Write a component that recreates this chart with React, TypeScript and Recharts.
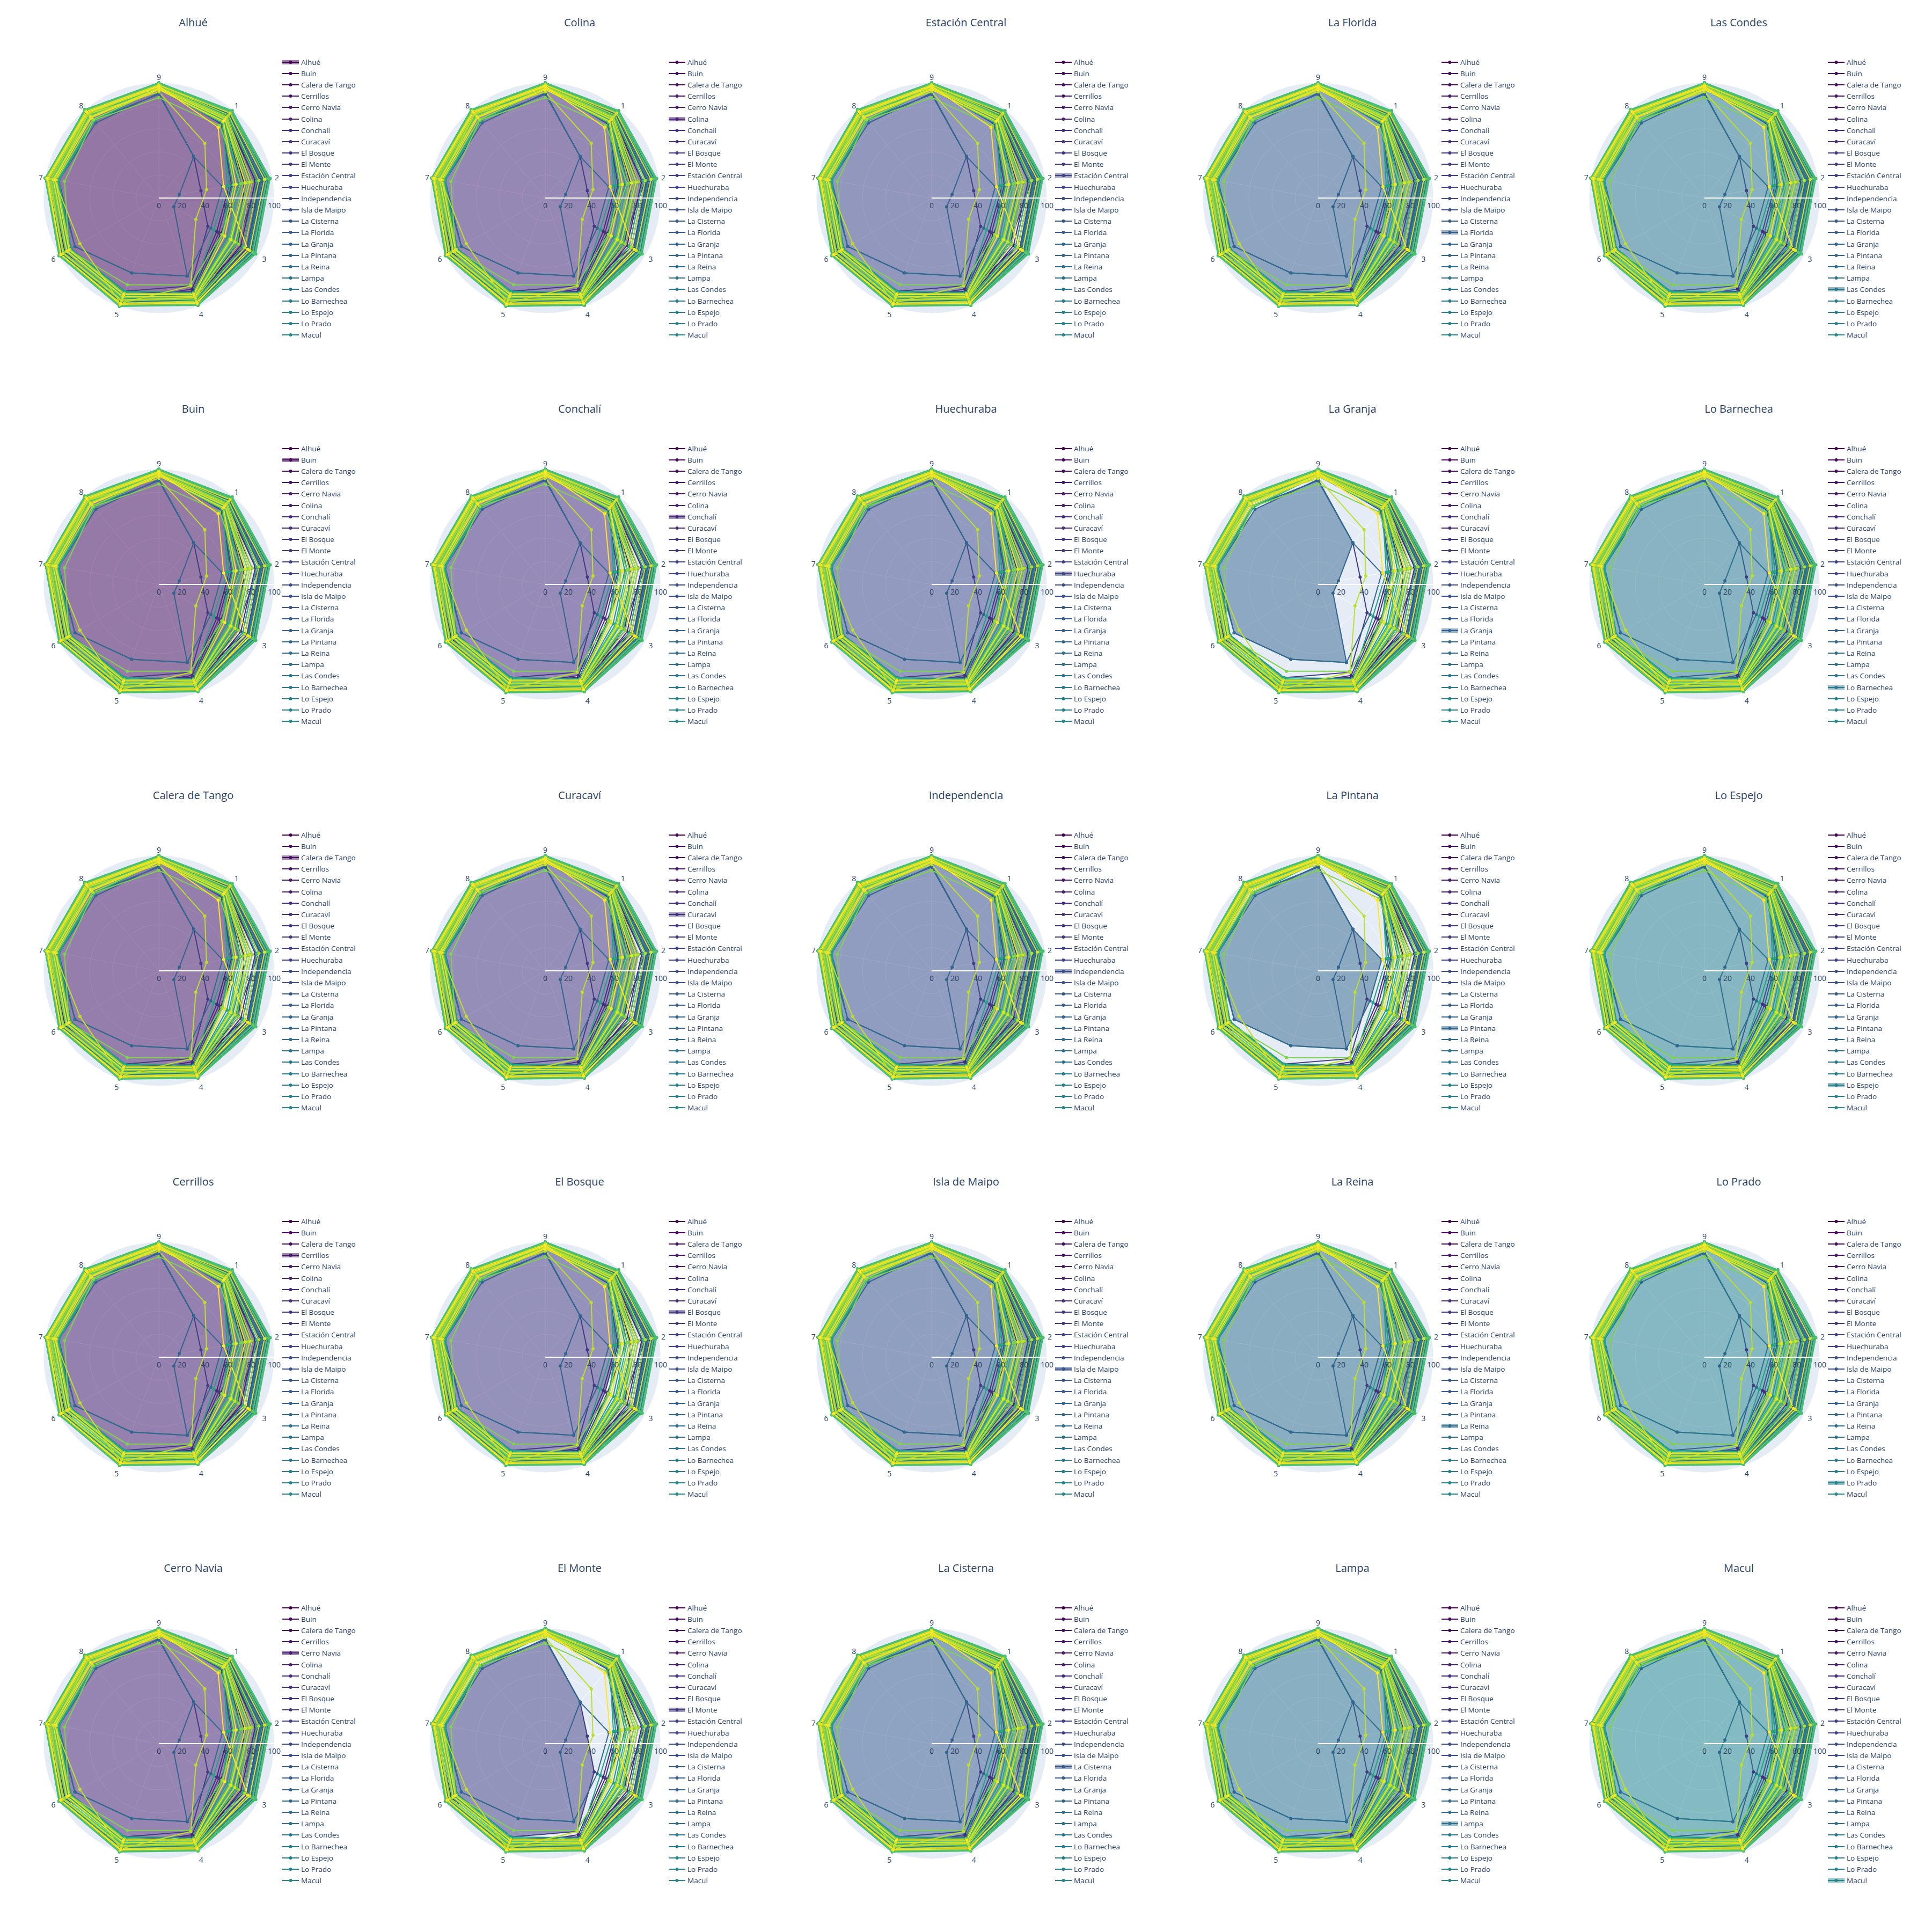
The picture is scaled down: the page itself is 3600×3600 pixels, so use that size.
import React from 'react';
import { RadarChart, Radar, PolarGrid, PolarAngleAxis, PolarRadiusAxis } from 'recharts';

// angular categories, clockwise from the top
const AXES = ['9', '1', '2', '3', '4', '5', '6', '7', '8'];

const COMMUNES = [
  'Alhué', 'Buin', 'Calera de Tango', 'Cerrillos', 'Cerro Navia', 'Colina', 'Conchalí',
  'Curacaví', 'El Bosque', 'El Monte', 'Estación Central', 'Huechuraba', 'Independencia',
  'Isla de Maipo', 'La Cisterna', 'La Florida', 'La Granja', 'La Pintana', 'La Reina',
  'Lampa', 'Las Condes', 'Lo Barnechea', 'Lo Espejo', 'Lo Prado', 'Macul', 'Maipú',
  'María Pinto', 'Melipilla', 'Ñuñoa', 'Padre Hurtado', 'Paine', 'Pedro Aguirre Cerda',
  'Peñaflor', 'Peñalolén', 'Pirque', 'Providencia', 'Pudahuel', 'Puente Alto', 'Quilicura',
  'Quinta Normal', 'Recoleta', 'Renca', 'San Bernardo', 'San Joaquín', 'San José de Maipo',
  'San Miguel', 'San Pedro', 'San Ramón', 'Santiago', 'Talagante', 'Tiltil', 'Vitacura',
];

// only the first 25 communes get a panel / legend entry
const PANELS = COMMUNES.slice(0, 25);

// one array per angular category, values in COMMUNES order
const V9 = [
  96, 95, 96, 97, 95, 98, 95, 97, 96, 90, 98, 97, 98,
  97, 96, 97, 91, 90, 98, 96, 99, 98, 96, 97, 98, 96,
  94, 95, 99, 95, 94, 96, 95, 97, 96, 100, 100, 96, 99,
  96, 95, 87, 96, 97, 94, 98, 92, 96, 98, 95, 94, 97,
];
const V1 = [
  94, 88, 90, 92, 93, 91, 86, 90, 84, 47, 95, 93, 94,
  92, 93, 95, 47, 47, 95, 94, 97, 96, 92, 93, 96, 90,
  86, 88, 98, 87, 85, 89, 88, 93, 90, 99, 98, 91, 97,
  90, 89, 82, 90, 92, 86, 94, 62, 91, 96, 89, 87, 80,
];
const V2 = [
  90, 75, 72, 86, 88, 85, 62, 82, 64, 37, 88, 90, 92,
  89, 90, 93, 18, 56, 94, 90, 96, 95, 88, 91, 95, 78,
  65, 70, 97, 60, 62, 80, 72, 86, 66, 98, 97, 80, 95,
  76, 74, 72, 78, 82, 66, 88, 42, 80, 93, 76, 68, 57,
];
const V3 = [
  88, 80, 62, 84, 86, 82, 58, 80, 60, 49, 78, 90, 90,
  88, 89, 92, 15, 52, 92, 89, 95, 94, 86, 90, 93, 74,
  63, 68, 96, 55, 64, 77, 70, 84, 74, 97, 96, 78, 94,
  73, 71, 63, 76, 80, 64, 86, 37, 76, 91, 72, 66, 89,
];
const V4 = [
  93, 92, 88, 90, 86, 94, 84, 92, 86, 81, 95, 94, 95,
  93, 94, 96, 72, 72, 96, 94, 97, 97, 93, 95, 96, 92,
  88, 90, 98, 87, 89, 91, 90, 94, 91, 99, 99, 92, 98,
  91, 90, 80, 92, 93, 88, 95, 81, 92, 96, 91, 89, 97,
];
const V5 = [
  95, 94, 95, 92, 88, 96, 94, 96, 95, 86, 96, 96, 96,
  95, 95, 97, 69, 69, 97, 95, 98, 98, 95, 96, 97, 95,
  88, 90, 99, 86, 89, 91, 87, 93, 90, 99, 100, 92, 99,
  91, 92, 80, 94, 95, 88, 97, 97, 94, 97, 91, 89, 98,
];
const V6 = [
  97, 96, 97, 91, 94, 97, 96, 97, 96, 88, 98, 97, 98,
  97, 96, 98, 84, 84, 98, 97, 99, 98, 96, 97, 98, 97,
  90, 92, 99, 88, 91, 93, 89, 95, 92, 100, 100, 93, 99,
  92, 93, 90, 95, 96, 89, 98, 79, 96, 98, 92, 90, 98,
];
const V7 = [
  98, 97, 97, 95, 97, 98, 97, 98, 97, 89, 99, 98, 99,
  98, 98, 99, 88, 90, 99, 98, 100, 99, 98, 98, 99, 98,
  90, 93, 100, 88, 91, 94, 89, 96, 92, 100, 100, 95, 99,
  92, 94, 83, 96, 95, 90, 99, 92, 97, 98, 93, 91, 98,
];
const V8 = [
  97, 96, 98, 97, 96, 97, 96, 98, 97, 88, 98, 97, 98,
  97, 97, 98, 85, 88, 98, 97, 99, 98, 97, 97, 98, 97,
  89, 92, 99, 87, 91, 93, 88, 95, 91, 100, 100, 94, 99,
  92, 93, 88, 96, 95, 89, 98, 95, 96, 98, 92, 91, 97,
];

const BY_AXIS = [V9, V1, V2, V3, V4, V5, V6, V7, V8];

const ROWS = AXES.map((axis, k) => {
  const row: Record<string, string | number> = { axis };
  COMMUNES.forEach((c, i) => {
    row[c] = BY_AXIS[k][i];
  });
  return row;
});

// plotly Viridis, sampled once per commune
const VIRIDIS = ['#440154', '#482878', '#3e4989', '#31688e', '#26828e', '#1f9e89', '#35b779', '#6ece58', '#b5de2b', '#fde725'];

function sampleViridis(t: number): string {
  const pos = t * (VIRIDIS.length - 1);
  const i = Math.min(Math.floor(pos), VIRIDIS.length - 2);
  const f = pos - i;
  const a = VIRIDIS[i];
  const b = VIRIDIS[i + 1];
  const ch = (s: string, o: number) => parseInt(s.slice(o, o + 2), 16);
  const mix = (o: number) => Math.round(ch(a, o) + (ch(b, o) - ch(a, o)) * f);
  return `rgb(${mix(1)},${mix(3)},${mix(5)})`;
}

const COLORS = COMMUNES.map((_, i) => sampleViridis(i / (COMMUNES.length - 1)));

const CELL = 720;
const CX = 296;
const CY = 369;
const R = 215;
const TEXT = '#2a3f5f';
const FONT = '"Open Sans", verdana, arial, sans-serif';

function AngleTick(props: any) {
  const { x, y, payload } = props;
  const dx = x - CX;
  const dy = y - CY;
  const len = Math.hypot(dx, dy) || 1;
  const ux = dx / len;
  const uy = dy / len;
  const off = 8 + (uy < 0 ? 3 : 8) * Math.abs(uy);
  return (
    <text
      x={CX + ux * (R + off)}
      y={CY + uy * (R + off)}
      textAnchor="middle"
      dominantBaseline="central"
      fontSize={14}
      fontFamily={FONT}
      fill={TEXT}
    >
      {payload.value}
    </text>
  );
}

function RadiusTick(props: any) {
  const { x, y, payload } = props;
  return (
    <text x={x} y={y + 13} textAnchor="middle" dominantBaseline="central" fontSize={14} fontFamily={FONT} fill={TEXT}>
      {payload.value}
    </text>
  );
}

function LegendList({ focus }: { focus: number }) {
  return (
    <div style={{ position: 'absolute', left: 526, top: 105, fontFamily: FONT, fontSize: 13.5, color: TEXT }}>
      {PANELS.map((name, i) => (
        <div key={name} style={{ display: 'flex', alignItems: 'center', height: 21.2, whiteSpace: 'nowrap' }}>
          <svg width={31} height={12} style={{ display: 'block' }}>
            {i === focus && <rect x={0} y={2} width={31} height={8} fill={COLORS[i]} fillOpacity={0.5} />}
            <line x1={0} y1={6} x2={31} y2={6} stroke={COLORS[i]} strokeWidth={2} />
            <circle cx={15.5} cy={6} r={3} fill={COLORS[i]} />
          </svg>
          <span style={{ marginLeft: 4 }}>{name}</span>
        </div>
      ))}
    </div>
  );
}

function Panel({ focus }: { focus: number }) {
  return (
    <div style={{ position: 'relative', width: CELL, height: CELL }}>
      <div
        style={{
          position: 'absolute',
          left: CX - R,
          top: CY - R,
          width: 2 * R,
          height: 2 * R,
          borderRadius: '50%',
          background: '#e5ecf6',
        }}
      />
      <div
        style={{
          position: 'absolute',
          left: 0,
          top: 28,
          width: CELL,
          textAlign: 'center',
          fontFamily: FONT,
          fontSize: 20,
          lineHeight: '28px',
          color: TEXT,
        }}
      >
        {PANELS[focus]}
      </div>
      <div style={{ position: 'absolute', left: 0, top: 0 }}>
        <RadarChart width={CELL} height={CELL} data={ROWS} cx={CX} cy={CY} outerRadius={R} startAngle={90} endAngle={-270}>
          <PolarGrid gridType="circle" stroke="#ffffff" strokeWidth={1} />
          {COMMUNES.map((c, i) => (
            <Radar
              key={c}
              name={c}
              dataKey={c}
              stroke={COLORS[i]}
              strokeWidth={2}
              fill={i === focus ? COLORS[i] : 'none'}
              fillOpacity={i === focus ? 0.5 : 0}
              dot={{ r: 3, fill: COLORS[i], fillOpacity: 1, stroke: 'none' }}
              isAnimationActive={false}
            />
          ))}
          <PolarRadiusAxis
            angle={0}
            domain={[0, 100]}
            tickCount={6}
            axisLine={{ stroke: '#ffffff', strokeWidth: 2 }}
            tickLine={false}
            tick={RadiusTick}
          />
          <PolarAngleAxis dataKey="axis" tick={AngleTick} tickLine={false} axisLine={false} />
        </RadarChart>
      </div>
      <LegendList focus={focus} />
    </div>
  );
}

export default function App() {
  return (
    <div style={{ position: 'absolute', left: 0, top: 0, width: 3600, height: 3600, background: '#ffffff' }}>
      {PANELS.map((name, p) => {
        const col = Math.floor(p / 5);
        const row = p % 5;
        return (
          <div key={name} style={{ position: 'absolute', left: col * CELL, top: row * CELL }}>
            <Panel focus={p} />
          </div>
        );
      })}
    </div>
  );
}
